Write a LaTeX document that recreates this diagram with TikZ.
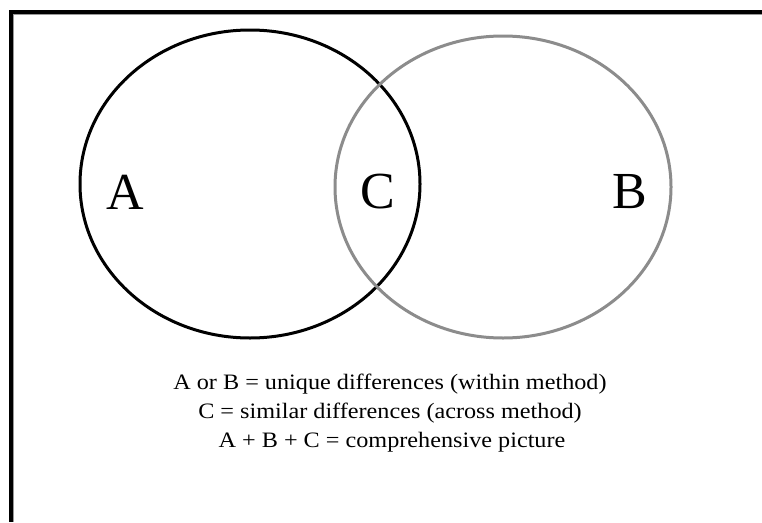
\documentclass[tikz,border=0pt]{standalone}
\usepackage{fontspec}
\setmainfont{Liberation Serif}
\newfontfamily\capfont[FakeStretch=1.1]{Liberation Serif}
\begin{document}
\begin{tikzpicture}[x=1pt,y=-1pt,
  frame/.style={line width=3.5pt,black},
  setA/.style={draw=black,line width=3pt},
  setB/.style={draw=black!45,line width=3pt},
  biglabel/.style={font=\fontsize{52}{52}\selectfont,inner sep=0pt},
  caption/.style={font=\capfont\fontsize{22}{26}\selectfont,inner sep=0pt,anchor=base}]
\useasboundingbox (0,0) rectangle (762,522);
\fill[white] (0,0) rectangle (762,522);
% partial frame (top and left)
\coordinate (tl) at (11,12);
\coordinate (tr) at (762,12);
\coordinate (bl) at (11,522);
\draw[frame] (tr) -- (tl) -- (bl);
\draw[black!40,line width=0.8pt] (762,14.4) -- (13.4,14.4) -- (13.4,522);
% sets
\draw[setA] (250,184) ellipse [x radius=170, y radius=154];
\draw[setB] (503,187) ellipse [x radius=168, y radius=151];
\node[biglabel] (a) at (125,192) {A};
\node[biglabel] (c) at (378,192) {C};
\node[biglabel] (b) at (630,192) {B};
\node[caption] (l1) at (390,389) {A or B = unique differences (within method)};
\node[caption] (l2) at (390,418) {C = similar differences (across method)};
\node[caption] (l3) at (392,447) {A + B + C = comprehensive picture};
\end{tikzpicture}
\end{document}
